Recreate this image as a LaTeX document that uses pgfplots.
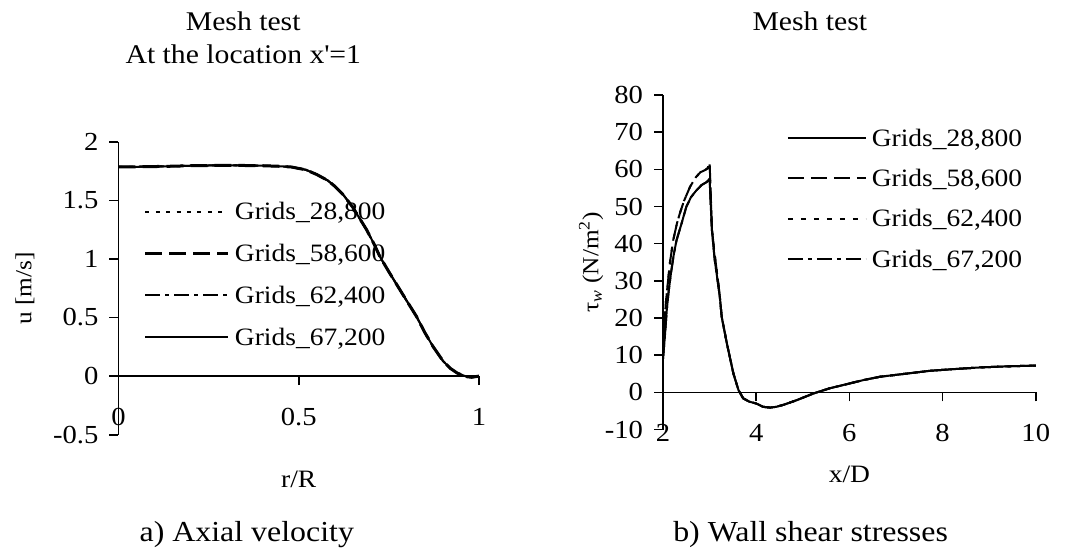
\documentclass[border=0pt]{standalone}
\usepackage{fontspec}
\setmainfont{Liberation Serif}[FakeStretch=1.1]
\usepackage{pgfplots}
\pgfplotsset{compat=1.18}
\pgfplotstableread{
x y
2.00 10
2.03 18
2.06 24
2.10 29
2.15 35
2.22 41
2.30 45.5
2.36 48.1
2.45 51.5
2.58 55.3
2.70 57.8
2.80 59.2
2.90 59.8
2.96 60.3
3.00 62.0
3.02 55
3.05 44
3.10 38
3.20 28
3.26 20.3
3.37 13.2
3.51 5.1
3.62 0.6
3.72 -1.6
3.85 -2.5
4.00 -3.0
4.15 -3.9
4.30 -4.1
4.43 -3.9
4.60 -3.3
4.87 -2.1
5.05 -1.2
5.23 -0.3
5.58 1.1
6.01 2.4
6.30 3.3
6.66 4.2
7.20 5.0
7.73 5.8
8.30 6.3
8.80 6.7
9.40 7.0
10.00 7.2
}\outer
\pgfplotstableread{
x y
2.00 9
2.04 15
2.08 22
2.12 27
2.17 32
2.23 37
2.29 40.9
2.40 45.5
2.50 49.9
2.60 52.5
2.72 54.4
2.83 55.8
2.94 56.6
3.00 57.5
3.02 51.7
3.05 43.6
3.11 35.6
3.22 25.7
3.26 20.3
3.37 13.2
3.51 5.1
3.62 0.6
3.72 -1.6
3.85 -2.5
4.00 -3.0
4.15 -3.9
4.30 -4.1
4.43 -3.9
4.60 -3.3
4.87 -2.1
5.05 -1.2
5.23 -0.3
5.58 1.1
6.01 2.4
6.30 3.3
6.66 4.2
7.20 5.0
7.73 5.8
8.30 6.3
8.80 6.7
9.40 7.0
10.00 7.2
}\inner
\pgfplotstableread{
x y
0.00 1.785
0.05 1.786
0.10 1.788
0.15 1.791
0.20 1.795
0.25 1.797
0.30 1.797
0.35 1.797
0.40 1.795
0.45 1.790
0.48 1.784
0.52 1.760
0.55 1.720
0.58 1.670
0.60 1.620
0.624 1.545
0.65 1.440
0.688 1.250
0.71 1.120
0.725 1.020
0.75 0.890
0.78 0.740
0.80 0.640
0.827 0.507
0.85 0.370
0.873 0.250
0.90 0.130
0.92 0.067
0.94 0.025
0.966 -0.005
0.98 -0.010
1.00 0.000
}\vel
\begin{document}
\begin{tikzpicture}
\useasboundingbox (0,0) rectangle (533.5pt,-276pt);
\pgfplotsset{
  mystyle/.style={
    scale only axis,
    clip=false,
    axis x line=middle, axis y line=left,
    axis line style={-, line width=0.8pt},
    tick style={line width=0.8pt, black},
    major tick length=4.5pt,
    tick align=outside,
    hide obscured x ticks=false, hide obscured y ticks=false,
    /pgf/number format/assume math mode=true,
    tick label style={font=\fontsize{13}{15}\selectfont},
    yticklabel style={xshift=-2pt},
    xticklabel style={anchor=center, yshift=-16pt},
    every axis x label/.style={at={(axis description cs:0.5,0)}, anchor=center, yshift=-22.5pt, font=\fontsize{12.5}{15}\selectfont},
    legend cell align=left,
    legend style={draw=none, fill=none, inner sep=0pt, outer sep=0pt,
      font=\fontsize{12.5}{15}\selectfont,
      nodes={inner sep=0pt, text height=8.5pt, text depth=1.5pt},
      /tikz/column sep=2.5pt},
    every axis plot/.append style={line width=1pt, black},
  }
}
% left
\begin{axis}[mystyle,
  at={(59.25pt,-217.35pt)}, anchor=south west,
  width=180.25pt, height=146.5pt,
  xmin=0, xmax=1, ymin=-0.5, ymax=2,
  xtick={0,0.5,1}, ytick={-0.5,0,0.5,1,1.5,2},
  xlabel={r/R},
  ylabel={u [m/s]},
  every axis y label/.style={at={(axis description cs:-0.2594,0.5)}, rotate=90, anchor=center, font=\fontsize{11.5}{14}\selectfont},
  title={Mesh test\\At the location x\textquotesingle=1},
  title style={at={(axis description cs:0.346,1.3556)}, anchor=center, yshift=-6pt, align=center, font=\fontsize{13.5}{16.5}\selectfont},
  legend style={at={(axis description cs:0.0707,0.791)}, anchor=north west, /tikz/row sep=10.85pt},
  legend image code/.code={\draw[#1] (0pt,0.6pt) -- (41.5pt,0.6pt);},
]
\addplot[dash pattern=on 2pt off 3.2pt] table[x=x,y=y] \vel;
\addlegendentry{Grids\_28,800}
\addplot[line width=1.5pt, dash pattern=on 8.5pt off 3.5pt] table[x=x,y=y] \vel;
\addlegendentry{Grids\_58,600}
\addplot[dash pattern=on 7.5pt off 2.5pt on 2pt off 2.5pt] table[x=x,y=y] \vel;
\addlegendentry{Grids\_62,400}
\addplot[solid] table[x=x,y=y] \vel;
\addlegendentry{Grids\_67,200}
\node[font=\fontsize{14.5}{17}\selectfont] at (axis description cs:0.356,-0.342) {a) Axial velocity};
\end{axis}
% right
\begin{axis}[mystyle,
  at={(331.5pt,-214.75pt)}, anchor=south west,
  width=186.4pt, height=167.25pt,
  xmin=2, xmax=10, ymin=-10, ymax=80,
  xtick={2,4,6,8,10}, ytick={-10,0,10,20,30,40,50,60,70,80},
  xlabel={x/D},
  ylabel={τ\textsubscript{\itshape w} (N/m\textsuperscript{2})},
  every axis y label/.style={at={(axis description cs:-0.193,0.5)}, rotate=90, anchor=center, font=\fontsize{11.5}{14}\selectfont},
  title={Mesh test},
  title style={at={(axis description cs:0.394,1.221)}, anchor=center, yshift=-6pt, font=\fontsize{13.5}{16}\selectfont},
  legend style={at={(axis description cs:0.332,0.898)}, anchor=north west, /tikz/row sep=10.15pt},
  legend image code/.code={\draw[#1] (0pt,0.6pt) -- (39pt,0.6pt);},
]
\addplot[solid] table[x=x,y=y] \inner;
\addlegendentry{Grids\_28,800}
\addplot[dash pattern=on 8pt off 3.5pt] table[x=x,y=y] \outer;
\addlegendentry{Grids\_58,600}
\addplot[dash pattern=on 2.5pt off 4pt] table[x=x,y=y] \outer;
\addlegendentry{Grids\_62,400}
\addplot[dash pattern=on 7.5pt off 2.5pt on 2pt off 2.5pt] table[x=x,y=y] \inner;
\addlegendentry{Grids\_67,200}
\node[font=\fontsize{14.5}{17}\selectfont] at (axis description cs:0.396,-0.3154) {b) Wall shear stresses};
\end{axis}
\end{tikzpicture}
\end{document}
